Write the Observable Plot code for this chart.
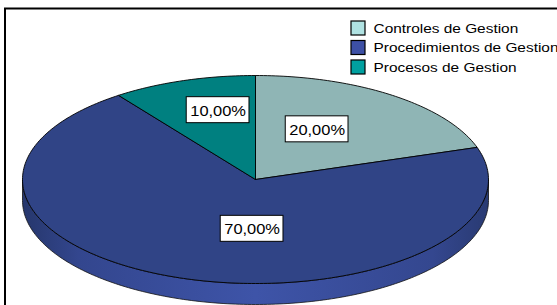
<!DOCTYPE html>
<html><head><meta charset="utf-8">
<script src="https://cdn.jsdelivr.net/npm/d3@7"></script>
<script src="https://cdn.jsdelivr.net/npm/@observablehq/plot@0.6"></script>
<style>
html,body{margin:0;padding:0;background:#fff;overflow:hidden}
#chart svg{overflow:hidden;display:block}
</style>
</head><body><div id="chart"></div>
<script>
// ---- data ----
const categories = ["Controles de Gestion", "Procedimientos de Gestion", "Procesos de Gestion"];
const values = [20, 70, 10];
const valueLabels = ["20,00%", "70,00%", "10,00%"];

// ---- style / layout ----
const W = 557, H = 305;
const topColors = ["#8fb5b5", "#304486", "#008080"];
const legendColors = ["#b0e2e2", "#3d50a5", "#00a0a0"];
const pie3d = {cx: 255, cy: 179, rx: 233, ry: 104, depth: 21};
const labelFrac = {x: 0.45, y: 0.62};
const labelNudge = [[0, 2], [29, -12], [-5, -8]];
const legend = {x: 351, y: 21, sw: 14, step: 19.5, font: 13.4, gap: 8};
const FONT = "Liberation Sans, Arial, sans-serif";
const STRETCH = 1.15; // reference text is horizontally stretched

const arcs = d3.pie().sort(null).value(d => d)(values);
const P = (a, dy = 0) => ({x: pie3d.cx + pie3d.rx * Math.sin(a), y: pie3d.cy - pie3d.ry * Math.cos(a) + dy});
const STEP = Math.PI / 180;
function arcPts(a0, a1, dy) {
  const n = Math.max(2, Math.ceil(Math.abs(a1 - a0) / STEP));
  return d3.range(n + 1).map(i => P(a0 + (a1 - a0) * i / n, dy));
}

// top faces
const tops = arcs.map((a, i) => {
  const c = {x: pie3d.cx, y: pie3d.cy};
  return [c, ...arcPts(a.startAngle, a.endAngle, 0), c].map(p => ({...p, k: i}));
});
// side faces (front half only)
const sides = [];
arcs.forEach((a, i) => {
  const a0 = Math.max(a.startAngle, Math.PI / 2), a1 = Math.min(a.endAngle, 3 * Math.PI / 2);
  if (a0 < a1) {
    const pts = [...arcPts(a0, a1, 0), ...arcPts(a1, a0, pie3d.depth)];
    pts.push(pts[0]);
    sides.push(pts.map(p => ({...p, k: i})));
  }
});

// label positions
const ctx = document.createElement("canvas").getContext("2d");
ctx.font = `14.3px ${FONT}`;
const labelData = arcs.map((a, i) => {
  const m = (a.startAngle + a.endAngle) / 2;
  const w = ctx.measureText(valueLabels[i]).width * STRETCH;
  return {
    label: valueLabels[i],
    x: pie3d.cx + pie3d.rx * labelFrac.x * Math.sin(m) + labelNudge[i][0],
    y: pie3d.cy - pie3d.ry * labelFrac.y * Math.cos(m) + labelNudge[i][1],
    w: w + 7, h: 26
  };
});

const legendData = categories.map((c, i) => ({c, i, color: legendColors[i]}));

const gradMark = () => {
  const defs = document.createElementNS("http://www.w3.org/2000/svg", "defs");
  defs.innerHTML = `<linearGradient id="sideGrad" x1="0" x2="1" y1="0" y2="0">
    <stop offset="0" stop-color="#26376c"/>
    <stop offset="0.12" stop-color="#33468e"/>
    <stop offset="0.5" stop-color="#3e54a8"/>
    <stop offset="0.88" stop-color="#34478f"/>
    <stop offset="1" stop-color="#293a72"/>
  </linearGradient>`;
  return defs;
};

const marks = [gradMark];
// frame
marks.push(Plot.rect([0], {x1: () => 5, y1: () => 8.5, x2: () => W + 6, y2: () => H + 6,
  fill: "none", stroke: "#000", strokeWidth: 2}));
sides.forEach(s => marks.push(Plot.line(s, {x: "x", y: "y", fill: "url(#sideGrad)",
  stroke: "#111", strokeWidth: 0.8, curve: "linear"})));
tops.forEach((t, i) => marks.push(Plot.line(t, {x: "x", y: "y", fill: topColors[i],
  stroke: "#000", strokeWidth: 0.9, curve: "linear", strokeLinejoin: "miter"})));
marks.push(Plot.rect(labelData, {x1: d => d.x - d.w / 2, x2: d => d.x + d.w / 2,
  y1: d => d.y - d.h / 2, y2: d => d.y + d.h / 2, fill: "#fff", stroke: "#000", strokeWidth: 1}));
marks.push(Plot.text(labelData, {x: "x", y: "y", text: "label", fontSize: 14.3,
  fontFamily: FONT, fill: "#000", textAnchor: "middle", dy: 1}));
// legend
marks.push(Plot.rect(legendData, {x1: () => legend.x, x2: () => legend.x + legend.sw,
  y1: d => legend.y + d.i * legend.step, y2: d => legend.y + d.i * legend.step + legend.sw,
  fill: "color", stroke: "#000", strokeWidth: 1.2}));
marks.push(Plot.text(legendData, {x: () => legend.x + legend.sw + legend.gap, y: d => legend.y + d.i * legend.step + legend.sw / 2,
  text: "c", textAnchor: "start", fontSize: legend.font, fontFamily: FONT, fill: "#000"}));

const plot = Plot.plot({
  width: W, height: H,
  margin: 0,
  x: {domain: [0, W], range: [0, W], axis: null},
  y: {domain: [0, H], range: [0, H], axis: null},
  color: {type: "identity"},
  marks
});
// stretch text horizontally around its anchor
plot.querySelectorAll('g[aria-label="text"] text').forEach(t => {
  const tr = t.getAttribute("transform");
  if (tr) {
    t.setAttribute("transform", tr + ` scale(${STRETCH},1)`);
  } else {
    const x = +t.getAttribute("x") || 0;
    t.setAttribute("transform", `translate(${x},0) scale(${STRETCH},1) translate(${-x},0)`);
  }
});
document.getElementById("chart").appendChild(plot);
</script>
</body></html>
